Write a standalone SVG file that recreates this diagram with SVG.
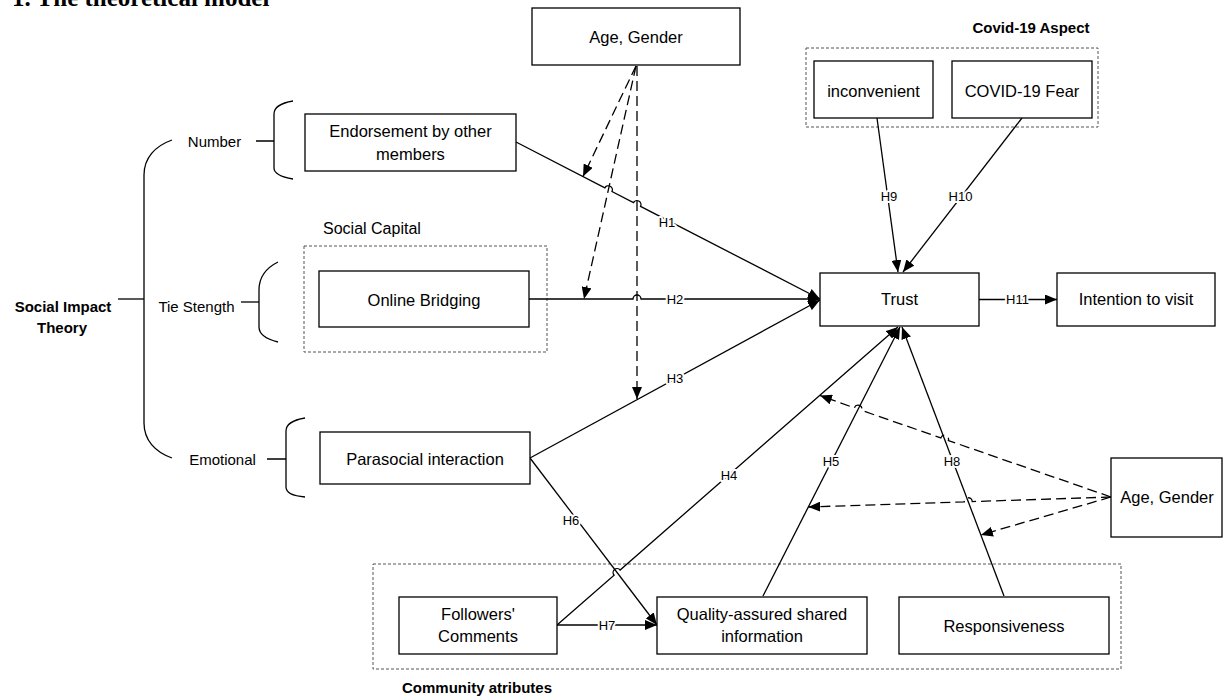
<svg xmlns="http://www.w3.org/2000/svg" width="1226" height="700" viewBox="0 0 1226 700">
<style>
.box{fill:#fff;stroke:#000;stroke-width:1.3}
.grp{fill:none;stroke:#555;stroke-width:1;stroke-dasharray:3 2}
.ln{fill:none;stroke:#000;stroke-width:1.3}
.dash{fill:none;stroke:#000;stroke-width:1.3;stroke-dasharray:10 5}
.br{fill:none;stroke:#000;stroke-width:1.3}
.t{font-family:"Liberation Sans",Arial,sans-serif;font-size:16.5px;fill:#000;text-anchor:middle}
.s{font-family:"Liberation Sans",Arial,sans-serif;font-size:15px;fill:#000;text-anchor:middle}
.b{font-family:"Liberation Sans",Arial,sans-serif;font-size:15px;font-weight:bold;fill:#000}
.h{font-family:"Liberation Sans",Arial,sans-serif;font-size:13px;fill:#000;text-anchor:middle;stroke:#fff;stroke-width:4;paint-order:stroke;stroke-linejoin:round}
</style>
<defs>
<marker id="arr" markerWidth="12" markerHeight="10" refX="12" refY="5" orient="auto" markerUnits="userSpaceOnUse"><path d="M0,0 L12,5 L0,10 z" fill="#000"/></marker>
</defs>
<rect width="1226" height="700" fill="#fff"/>
<text x="12" y="6" font-family="'Liberation Serif','Times New Roman',serif" font-size="25" font-weight="bold">1. The theoretical model</text>

<g id="theory">
<path class="br" d="M172,140 C155,146 144,158 144,175 L144,423 C144,440 155,452 172,458"/>
<path class="br" d="M118,299 L144,299"/>
<text class="b" x="63" y="312" text-anchor="middle">Social Impact</text>
<text class="b" x="62" y="333" text-anchor="middle">Theory</text>
</g>
<g id="number">
<text class="s" x="214.5" y="146.5">Number</text>
<path class="br" d="M256,141 L274,141 M293,101 C281,103 274,107 274,114 L274,168 C274,174 281,177 293,179"/>
</g>
<g id="tie">
<text class="s" x="196.5" y="312">Tie Stength</text>
<path class="br" d="M278,262 C266,268 259,278 259,290 L259,327 C259,334 266,339 278,342"/>
<path class="br" d="M241,302 L259,302" stroke-width="2"/>
</g>
<g id="emotional">
<text class="s" x="222.5" y="465">Emotional</text>
<path class="br" d="M267,459 L286,459 M305,418 C293,420 286,424 286,431 L286,487 C286,493 293,496 305,497"/>
</g>

<g id="social-capital">
<rect class="grp" x="304" y="246" width="243" height="106"/>
<text x="323" y="234" font-family="'Liberation Sans',Arial,sans-serif" font-size="16">Social Capital</text>
</g>
<g id="covid-aspect">
<rect class="grp" x="806" y="48" width="292" height="79"/>
<text class="b" x="1031" y="33" text-anchor="middle">Covid-19 Aspect</text>
</g>
<g id="community">
<rect class="grp" x="373" y="564" width="748" height="105"/>
<text class="b" x="402" y="693">Community atributes</text>
</g>

<g id="connectors">
<path class="ln" d="M516,142 L604.85,187.86 A4,4 0 0 1 611.95,191.54 L633.45,202.66 A4,4 0 0 1 640.55,206.34 L820,299" marker-end="url(#arr)"/>
<path class="ln" d="M529,299 L633,299 A4,4 0 0 1 641,299 L820,299" marker-end="url(#arr)"/>
<path class="ln" d="M530,458 L820,300" marker-end="url(#arr)"/>
<path class="ln" d="M557,625 L614.08,575.23 A4,4 0 0 1 620.12,569.97 L898,327" marker-end="url(#arr)"/>
<path class="ln" d="M763,596 L900,327" marker-end="url(#arr)"/>
<path class="ln" d="M1004,596 L902,327" marker-end="url(#arr)"/>
<path class="ln" d="M530,458 L657,625" marker-end="url(#arr)"/>
<path class="ln" d="M557,625 L657,625" marker-end="url(#arr)"/>
<path class="ln" d="M877,118 L898,272" marker-end="url(#arr)"/>
<path class="ln" d="M1022,118 L903,272" marker-end="url(#arr)"/>
<path class="ln" d="M979,299.5 L1057,299.5" marker-end="url(#arr)"/>

<path class="dash" d="M636,66 L583,176.5" marker-end="url(#arr)"/>
<path class="dash" d="M636,66 L584,299" marker-end="url(#arr)"/>
<path class="dash" d="M637,66 L637,399" marker-end="url(#arr)"/>

<path class="dash" d="M1111,497 L948.38,440.51 A4,4 0 0 0 940.82,437.89 L861.88,410.51 A4,4 0 0 0 854.32,407.89 L820,395.5" marker-end="url(#arr)"/>
<path class="dash" d="M1111,497 L972.25,501.59 A4,4 0 0 0 964.25,501.85 L808.3,507" marker-end="url(#arr)"/>
<path class="dash" d="M1111,497 L980.9,535" marker-end="url(#arr)"/>

<text class="h" x="667" y="226.5">H1</text>
<text class="h" x="675" y="304">H2</text>
<text class="h" x="675" y="383">H3</text>
<text class="h" x="729" y="479.5">H4</text>
<text class="h" x="831" y="466">H5</text>
<text class="h" x="571" y="525">H6</text>
<text class="h" x="607" y="629.5">H7</text>
<text class="h" x="952" y="466">H8</text>
<text class="h" x="889" y="200.5">H9</text>
<text class="h" x="960.5" y="200.5">H10</text>
<text class="h" x="1017.5" y="304">H11</text>
</g>

<g id="age-gender-top">
<rect class="box" x="532" y="8" width="208" height="57"/>
<text class="t" x="636" y="42.5">Age, Gender</text>
</g>
<g id="endorsement">
<rect class="box" x="305" y="114" width="211" height="57"/>
<text class="t" x="410.5" y="137">Endorsement by other</text>
<text class="t" x="410.5" y="160">members</text>
</g>
<g id="online-bridging">
<rect class="box" x="319" y="271" width="210" height="56"/>
<text class="t" x="424" y="306">Online Bridging</text>
</g>
<g id="parasocial">
<rect class="box" x="320" y="432" width="210" height="52"/>
<text class="t" x="425" y="465">Parasocial interaction</text>
</g>
<g id="inconvenient">
<rect class="box" x="814" y="61" width="119" height="57"/>
<text class="t" x="873.5" y="96.5">inconvenient</text>
</g>
<g id="covid-fear">
<rect class="box" x="952" y="61" width="140" height="57"/>
<text class="t" x="1022" y="96.5">COVID-19 Fear</text>
</g>
<g id="trust">
<rect class="box" x="820" y="273" width="159" height="53"/>
<text class="t" x="899.5" y="305">Trust</text>
</g>
<g id="intention">
<rect class="box" x="1057" y="273" width="158" height="53"/>
<text class="t" x="1136" y="305">Intention to visit</text>
</g>
<g id="age-gender-right">
<rect class="box" x="1111" y="458" width="111" height="79"/>
<text class="t" x="1167" y="503">Age, Gender</text>
</g>
<g id="followers">
<rect class="box" x="399" y="597" width="158" height="57"/>
<text class="t" x="478" y="620">Followers'</text>
<text class="t" x="478" y="642">Comments</text>
</g>
<g id="quality">
<rect class="box" x="657" y="597" width="210" height="57"/>
<text class="t" x="762" y="620">Quality-assured shared</text>
<text class="t" x="762" y="642">information</text>
</g>
<g id="responsiveness">
<rect class="box" x="899" y="597" width="210" height="57"/>
<text class="t" x="1004" y="632">Responsiveness</text>
</g>
</svg>
